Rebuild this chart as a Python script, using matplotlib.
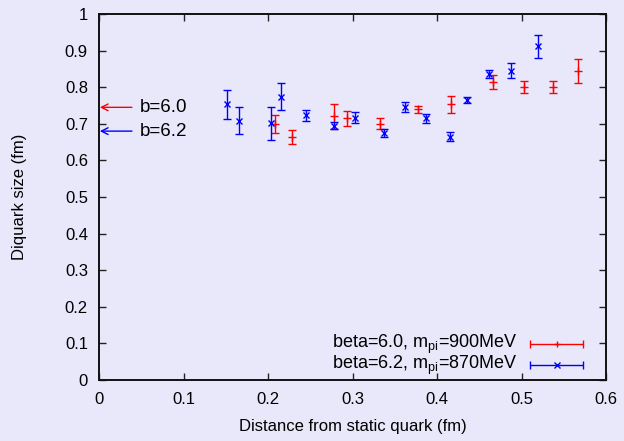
import matplotlib
matplotlib.use("Agg")
import matplotlib.pyplot as plt

# Data: beta=6.0 (red)
x60 = [0.208, 0.228, 0.278, 0.293, 0.333, 0.378, 0.416, 0.466, 0.503, 0.537, 0.567]
y60 = [0.699, 0.665, 0.720, 0.715, 0.700, 0.740, 0.753, 0.815, 0.800, 0.800, 0.845]
e60 = [0.024, 0.019, 0.035, 0.020, 0.015, 0.010, 0.023, 0.019, 0.017, 0.017, 0.033]

# Data: beta=6.2 (blue)
x62 = [0.152, 0.166, 0.203, 0.215, 0.245, 0.278, 0.303, 0.337, 0.362, 0.387, 0.415, 0.436, 0.462, 0.487, 0.520]
y62 = [0.753, 0.708, 0.701, 0.774, 0.724, 0.695, 0.717, 0.675, 0.745, 0.715, 0.665, 0.765, 0.837, 0.845, 0.912]
e62 = [0.040, 0.037, 0.044, 0.037, 0.015, 0.010, 0.016, 0.010, 0.014, 0.012, 0.012, 0.008, 0.011, 0.020, 0.031]

b_labels = ["b=6.0", "b=6.2"]
b_values = [0.745, 0.680]
b_colors = ["#ff0000", "#0000ff"]

legend_labels = ["beta=6.0, m$_{\\mathregular{pi}}$=900MeV", "beta=6.2, m$_{\\mathregular{pi}}$=870MeV"]

xticks = [0, 0.1, 0.2, 0.3, 0.4, 0.5, 0.6]
yticks = [0, 0.1, 0.2, 0.3, 0.4, 0.5, 0.6, 0.7, 0.8, 0.9, 1.0]

bg = "#e8e8fa"
plt.rcParams['font.family'] = ['Liberation Sans', 'DejaVu Sans']
plt.rcParams['mathtext.fontset'] = 'custom'
plt.rcParams['mathtext.rm'] = 'Liberation Sans'

fig = plt.figure(figsize=(6.24, 4.41), dpi=100, facecolor=bg)
ax = fig.add_axes([99/624, 1-380/441, (606-99)/624, (380-14)/441], facecolor=bg)

ax.errorbar(x60, y60, yerr=e60, fmt='+', color='#ff0000', ms=6, mew=1,
            elinewidth=1, capsize=3, capthick=1)
ax.errorbar(x62, y62, yerr=e62, fmt='x', color='#0000ff', ms=4.5, mew=1,
            elinewidth=1, capsize=3, capthick=1)

ax.set_xlim(0, 0.6)
ax.set_ylim(0, 1)
ax.set_xticks(xticks)
ax.set_xticklabels(["0", "0.1", "0.2", "0.3", "0.4", "0.5", "0.6"])
ax.set_yticks(yticks)
ax.set_yticklabels(["0", "0.1", "0.2", "0.3", "0.4", "0.5", "0.6", "0.7", "0.8", "0.9", "1"])
ax.tick_params(direction='in', length=5, width=1, top=True, right=True,
               labelsize=12, colors='#222222', labelcolor='black')
ax.tick_params(axis='x', pad=9)
ax.tick_params(axis='y', pad=8)
for s in ax.spines.values():
    s.set_linewidth(1.4)
    s.set_color('#111111')

ax.set_xlabel("Distance from static quark (fm)", fontsize=12, labelpad=8)
ax.set_ylabel("Diquark size (fm)", fontsize=12, labelpad=27)

# arrows for b values
for lab, val, col in zip(b_labels, b_values, b_colors):
    ax.annotate("", xy=(0.001, val), xytext=(0.039, val),
                arrowprops=dict(arrowstyle='->', color=col, lw=1,
                                shrinkA=0, shrinkB=0, mutation_scale=12))
    ax.text(0.048, val, lab, fontsize=13.5, va='center', ha='left')

# legend (gnuplot style)
rows = [0.0985, 0.040]
cols = ['#ff0000', '#0000ff']
marks = ['+', 'x']
for lab, yy, col, mk in zip(legend_labels, rows, cols, marks):
    ax.text(0.826, yy, lab, transform=ax.transAxes, ha='right', va='center', fontsize=13)
    ax.errorbar([0.903], [yy], xerr=[0.052], fmt=mk, color=col, ms=5, mew=1,
                elinewidth=1, capsize=3, capthick=1, transform=ax.transAxes, clip_on=False)

fig.savefig("out.png", dpi=100, facecolor=bg)
